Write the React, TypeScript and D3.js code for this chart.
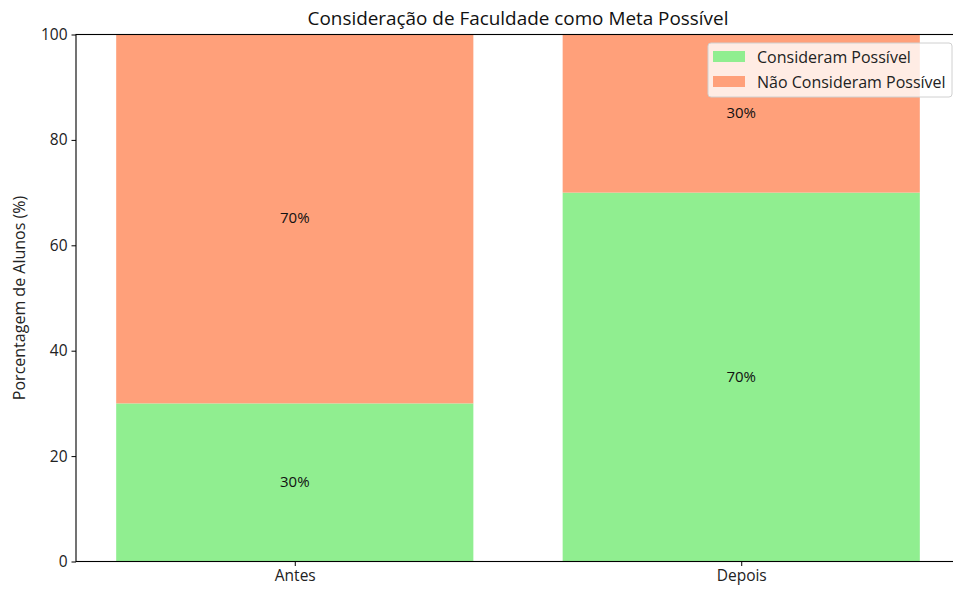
import { useEffect, useRef } from "react";
import * as d3 from "d3";

const categories = ["Antes", "Depois"];
const possivel = [30, 70];
const naoPossivel = [70, 30];
const seriesNames = ["Consideram Possível", "Não Consideram Possível"];
const seriesColors = ["#90ee90", "#ffa07a"];
const yTicks = [0, 20, 40, 60, 80, 100];

function App() {
  const ref = useRef<SVGSVGElement>(null);

  const width = 953;
  const height = 590;
  const margin = { top: 34.5, right: -7, bottom: 28.5, left: 76 };
  const font = "'Open Sans', 'Noto Sans', sans-serif";

  useEffect(() => {
    const svg = d3.select(ref.current);
    svg.selectAll("*").remove();

    // band positions like matplotlib: bar width 0.8, margins 0.05
    const x = d3.scaleLinear()
      .domain([-0.49, 1.49])
      .range([margin.left, width - margin.right]);
    const y = d3.scaleLinear()
      .domain([0, 100])
      .range([height - margin.bottom, margin.top]);
    const barW = x(0.8) - x(0);

    const stacks = [possivel, naoPossivel];
    stacks.forEach((vals, s) => {
      const g = svg.append("g");
      vals.forEach((v, i) => {
        const base = s === 0 ? 0 : possivel[i];
        g.append("rect")
          .attr("x", x(i) - barW / 2)
          .attr("y", y(base + v))
          .attr("width", barW)
          .attr("height", y(base) - y(base + v))
          .attr("fill", seriesColors[s]);
        g.append("text")
          .attr("x", x(i))
          .attr("y", y(base + v / 2))
          .attr("dy", "0.3em")
          .attr("text-anchor", "middle")
          .style("font-family", font)
          .style("font-size", "15px")
          .attr("fill", "#111")
          .text(`${v}%`);
      });
    });

    // axes
    const yAxis = svg.append("g")
      .attr("transform", `translate(${margin.left},0)`)
      .call(d3.axisLeft(y).tickValues(yTicks).tickSize(4.5).tickPadding(4).tickSizeOuter(0));
    yAxis.selectAll("text").style("font-family", font).style("font-size", "15.5px").attr("fill", "#222");

    const xAxis = svg.append("g")
      .attr("transform", `translate(0,${height - margin.bottom})`)
      .call(
        d3.axisBottom(x)
          .tickValues([0, 1])
          .tickFormat((d) => categories[d as number])
          .tickSize(4.5)
          .tickPadding(4)
          .tickSizeOuter(0)
      );
    xAxis.selectAll("text").style("font-family", font).style("font-size", "15.5px").attr("fill", "#222");
    svg.selectAll(".domain").remove();

    // spines
    const spine = svg.append("g").attr("stroke", "#000").attr("stroke-width", 1.1).attr("fill", "none");
    spine.append("rect")
      .attr("x", margin.left)
      .attr("y", margin.top)
      .attr("width", width - margin.right - margin.left)
      .attr("height", height - margin.bottom - margin.top);

    // title
    svg.append("text")
      .attr("x", (margin.left + width - margin.right) / 2)
      .attr("y", margin.top - 10)
      .attr("text-anchor", "middle")
      .style("font-family", font)
      .style("font-size", "18.9px")
      .attr("fill", "#111")
      .text("Consideração de Faculdade como Meta Possível");

    svg.append("text")
      .attr("transform", `translate(25,${(margin.top + height - margin.bottom) / 2}) rotate(-90)`)
      .attr("text-anchor", "middle")
      .style("font-family", font)
      .style("font-size", "16px")
      .attr("fill", "#222")
      .text("Porcentagem de Alunos (%)");

    // legend
    const lg = svg.append("g").attr("transform", "translate(708,43)");
    lg.append("rect")
      .attr("width", 244)
      .attr("height", 54)
      .attr("rx", 3)
      .attr("fill", "white")
      .attr("fill-opacity", 0.8)
      .attr("stroke", "#d0d0d0");
    seriesNames.forEach((name, i) => {
      lg.append("rect")
        .attr("x", 5)
        .attr("y", 8 + i * 25)
        .attr("width", 32)
        .attr("height", 11)
        .attr("fill", seriesColors[i]);
      lg.append("text")
        .attr("x", 49)
        .attr("y", 14 + i * 25)
        .attr("dy", "0.35em")
        .style("font-family", font)
        .style("font-size", "16px")
        .attr("fill", "#222")
        .text(name);
    });
  });

  return (
    <div style={{ position: "absolute", left: 0, top: 0, width, height, overflow: "hidden" }}>
      <svg ref={ref} width={width} height={height} style={{ display: "block" }}></svg>
    </div>
  );
}

export default App;
